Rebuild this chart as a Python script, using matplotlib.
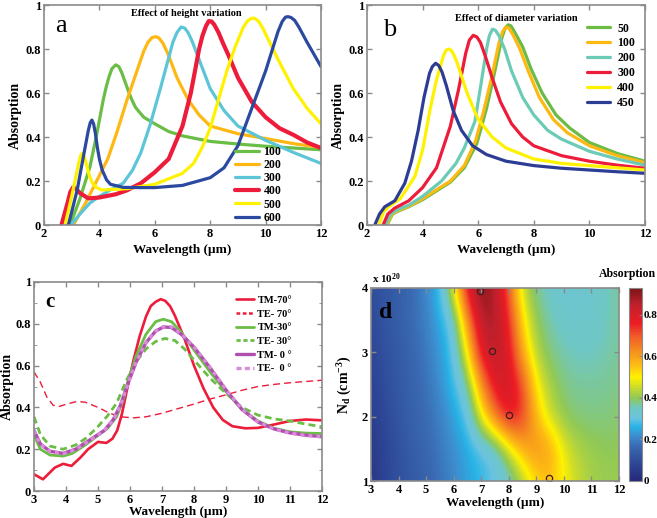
import numpy as np
import matplotlib
matplotlib.use("Agg")
import matplotlib.pyplot as plt
from matplotlib.colors import LinearSegmentedColormap

plt.rcParams['font.family'] = ['Liberation Serif', 'DejaVu Serif']
plt.rcParams['font.weight'] = 'bold'
plt.rcParams['axes.labelweight'] = 'bold'
plt.rcParams['mathtext.fontset'] = 'custom'
plt.rcParams['mathtext.rm'] = 'Liberation Serif:bold'
plt.rcParams['mathtext.it'] = 'Liberation Serif:bold'
plt.rcParams['mathtext.bf'] = 'Liberation Serif:bold'
plt.rcParams['mathtext.default'] = 'rm'
plt.rcParams['lines.solid_joinstyle'] = 'round'
plt.rcParams['lines.solid_capstyle'] = 'round'

# ---------------- Panel a : height variation ----------------
a_labels = ['100', '200', '300', '400', '500', '600']
a_colors = ['#6abd45', '#fdb813', '#5cc6d8', '#ec1c3a', '#fff200', '#2b4a9f']
a_x100 = [2.94, 3.3, 3.66, 3.9, 4.14, 4.25, 4.35, 4.45, 4.59, 4.7, 4.8, 4.9, 5.0, 5.15, 5.3, 5.6, 6.0, 6.5, 7, 8, 9, 10, 11, 12]
a_y100 = [0, 0.12, 0.265, 0.41, 0.57, 0.63, 0.675, 0.71, 0.728, 0.72, 0.695, 0.66, 0.625, 0.575, 0.535, 0.49, 0.46, 0.425, 0.405, 0.38, 0.368, 0.358, 0.35, 0.342]
a_x200 = [3.06, 3.5, 3.9, 4.3, 4.62, 5.0, 5.3, 5.6, 5.75, 5.9, 6.04, 6.15, 6.3, 6.5, 6.8, 7.2, 7.6, 8, 9, 10, 11, 12]
a_y200 = [0, 0.1, 0.2, 0.3, 0.417, 0.57, 0.68, 0.79, 0.83, 0.852, 0.856, 0.85, 0.825, 0.77, 0.67, 0.57, 0.5, 0.45, 0.415, 0.393, 0.37, 0.352]
a_x300 = [2.97, 3.3, 3.66, 4.0, 4.4, 4.86, 5.2, 5.5, 5.83, 6.2, 6.5, 6.65, 6.8, 6.95, 7.08, 7.2, 7.35, 7.5, 8.0, 8.5, 9, 10, 11, 12]
a_y300 = [0, 0.05, 0.1, 0.13, 0.16, 0.19, 0.25, 0.33, 0.455, 0.62, 0.76, 0.83, 0.875, 0.9, 0.895, 0.875, 0.835, 0.785, 0.62, 0.52, 0.45, 0.385, 0.33, 0.28]
a_x400 = [2.63, 2.85, 2.95, 3.05, 3.15, 3.3, 3.6, 4.0, 4.6, 5.0, 5.5, 6.0, 6.5, 7.0, 7.3, 7.6, 7.72, 7.85, 7.95, 8.05, 8.15, 8.3, 8.45, 8.7, 9.0, 9.5, 10, 10.5, 11, 11.5, 12]
a_y400 = [0, 0.1, 0.15, 0.171, 0.165, 0.145, 0.121, 0.125, 0.14, 0.158, 0.19, 0.24, 0.3, 0.45, 0.6, 0.8, 0.86, 0.905, 0.927, 0.925, 0.91, 0.875, 0.83, 0.76, 0.67, 0.56, 0.49, 0.44, 0.41, 0.375, 0.35]
a_x500 = [2.76, 3.0, 3.25, 3.33, 3.39, 3.46, 3.55, 3.65, 3.75, 3.9, 4.08, 5, 6, 7, 7.4, 7.7, 8.0, 8.3, 8.6, 8.9, 9.2, 9.35, 9.5, 9.6, 9.75, 9.9, 10.05, 10.5, 11, 11.5, 12]
a_y500 = [0, 0.13, 0.28, 0.318, 0.326, 0.31, 0.265, 0.22, 0.19, 0.17, 0.159, 0.165, 0.185, 0.235, 0.28, 0.35, 0.44, 0.57, 0.7, 0.81, 0.9, 0.928, 0.94, 0.94, 0.925, 0.895, 0.855, 0.74, 0.62, 0.53, 0.46]
a_x600 = [2.88, 3.2, 3.45, 3.6, 3.67, 3.73, 3.79, 3.85, 3.93, 4.0, 4.1, 4.26, 4.4, 4.86, 5.5, 6, 7, 8, 8.5, 9, 9.5, 10, 10.25, 10.45, 10.6, 10.72, 10.81, 10.92, 11.05, 11.2, 11.5, 12]
a_y600 = [0, 0.16, 0.33, 0.43, 0.465, 0.477, 0.46, 0.42, 0.35, 0.3, 0.25, 0.205, 0.185, 0.171, 0.17, 0.17, 0.18, 0.215, 0.26, 0.36, 0.53, 0.7, 0.8, 0.88, 0.925, 0.945, 0.947, 0.943, 0.93, 0.9, 0.83, 0.72]

# ---------------- Panel b : diameter variation ----------------
b_labels = ['50', '100', '200', '300', '400', '450']
b_colors = ['#6cbb45', '#fdb913', '#6bcbb7', '#ec1c3a', '#fff200', '#2e3d94']
b_x50 = [2.72, 2.92, 3.12, 3.5, 4, 4.5, 5, 5.5, 5.95, 6.3, 6.6, 6.85, 6.97, 7.08, 7.18, 7.32, 7.6, 7.9, 8.3, 8.8, 9.3, 10, 11, 12]
b_y50 = [0, 0.05, 0.063, 0.083, 0.115, 0.155, 0.195, 0.26, 0.37, 0.53, 0.7, 0.85, 0.895, 0.91, 0.905, 0.875, 0.81, 0.71, 0.6, 0.5, 0.44, 0.375, 0.325, 0.29]
b_x100 = [2.7, 2.9, 3.1, 3.5, 4, 4.5, 5, 5.5, 5.9, 6.2, 6.5, 6.75, 6.88, 7.0, 7.1, 7.25, 7.5, 7.8, 8.2, 8.7, 9.2, 10, 11, 12]
b_y100 = [0, 0.05, 0.065, 0.085, 0.12, 0.16, 0.2, 0.27, 0.38, 0.52, 0.68, 0.83, 0.88, 0.9, 0.895, 0.865, 0.8, 0.7, 0.58, 0.48, 0.42, 0.36, 0.315, 0.283]
b_x200 = [2.66, 2.85, 3.1, 3.5, 4, 4.68, 5.2, 5.5, 5.88, 6.1, 6.3, 6.4, 6.51, 6.62, 6.75, 6.95, 7.2, 7.6, 8, 8.5, 9, 10, 11, 12]
b_y200 = [0, 0.05, 0.07, 0.09, 0.13, 0.2, 0.28, 0.35, 0.47, 0.64, 0.8, 0.86, 0.89, 0.885, 0.86, 0.8, 0.7, 0.58, 0.5, 0.43, 0.39, 0.335, 0.3, 0.272]
b_x300 = [2.58, 2.75, 3.0, 3.5, 4.0, 4.5, 5.0, 5.3, 5.55, 5.68, 5.82, 5.95, 6.08, 6.25, 6.5, 6.8, 7.2, 7.6, 8, 9, 10, 11, 12]
b_y300 = [0, 0.05, 0.077, 0.11, 0.17, 0.26, 0.45, 0.62, 0.78, 0.84, 0.862, 0.855, 0.83, 0.77, 0.67, 0.56, 0.46, 0.4, 0.36, 0.315, 0.29, 0.272, 0.258]
b_x400 = [2.42, 2.6, 2.8, 3.2, 3.72, 4.0, 4.26, 4.5, 4.75, 4.85, 4.93, 5.02, 5.12, 5.25, 5.6, 6.0, 6.5, 7, 8, 9, 10, 11, 12]
b_y400 = [0, 0.06, 0.085, 0.12, 0.22, 0.34, 0.52, 0.66, 0.77, 0.795, 0.8, 0.795, 0.775, 0.735, 0.6, 0.48, 0.4, 0.35, 0.3, 0.28, 0.27, 0.26, 0.25]
b_x450 = [2.28, 2.45, 2.64, 3.0, 3.36, 3.6, 3.84, 4.05, 4.25, 4.35, 4.47, 4.58, 4.7, 4.85, 5.1, 5.4, 5.8, 6.3, 7, 8, 9, 10, 11, 12]
b_y450 = [0, 0.05, 0.083, 0.11, 0.19, 0.29, 0.43, 0.58, 0.69, 0.72, 0.735, 0.725, 0.695, 0.635, 0.52, 0.43, 0.36, 0.32, 0.29, 0.27, 0.258, 0.25, 0.242, 0.235]

# ---------------- Panel c : polarisation / angle ----------------
c_x_tm70 = [3.0, 3.28, 3.65, 3.91, 4.17, 4.45, 4.69, 5.0, 5.26, 5.45, 5.6, 5.75, 5.9, 6.1, 6.3, 6.5, 6.65, 6.8, 6.96, 7.1, 7.25, 7.4, 7.7, 8.0, 8.3, 8.6, 8.9, 9.2, 9.6, 10, 10.5, 11, 11.5, 12]
c_y_tm70 = [0.08, 0.056, 0.112, 0.13, 0.12, 0.16, 0.2, 0.235, 0.23, 0.25, 0.29, 0.37, 0.48, 0.62, 0.74, 0.835, 0.885, 0.905, 0.918, 0.91, 0.885, 0.84, 0.73, 0.6, 0.49, 0.4, 0.34, 0.31, 0.3, 0.302, 0.318, 0.335, 0.342, 0.338]
c_x_te70 = [3.0, 3.2, 3.4, 3.6, 3.8, 4.0, 4.33, 4.6, 5.0, 5.37, 5.7, 6.1, 6.5, 7.0, 7.45, 8, 8.5, 9, 9.5, 10, 10.5, 11, 11.5, 12]
c_y_te70 = [0.57, 0.52, 0.45, 0.41, 0.405, 0.415, 0.428, 0.425, 0.4, 0.372, 0.355, 0.35, 0.355, 0.372, 0.392, 0.416, 0.44, 0.46, 0.482, 0.5, 0.51, 0.518, 0.524, 0.53]
c_x_tm30 = [3.0, 3.2, 3.5, 3.91, 4.2, 4.6, 4.95, 5.3, 5.58, 5.8, 5.94, 6.2, 6.5, 6.8, 7.04, 7.3, 7.6, 8.0, 8.5, 9.0, 9.5, 10, 10.5, 11, 11.5, 12]
c_y_tm30 = [0.267, 0.2, 0.172, 0.167, 0.18, 0.22, 0.26, 0.3, 0.355, 0.44, 0.53, 0.65, 0.75, 0.81, 0.822, 0.81, 0.76, 0.675, 0.57, 0.475, 0.39, 0.335, 0.3, 0.283, 0.277, 0.275]
c_x_te30 = [3.0, 3.2, 3.5, 3.91, 4.3, 4.6, 4.95, 5.3, 5.58, 5.89, 6.2, 6.5, 6.8, 7.09, 7.4, 7.7, 8.0, 8.5, 9, 9.5, 10, 10.5, 11, 11.5, 12]
c_y_te30 = [0.355, 0.27, 0.215, 0.2, 0.22, 0.25, 0.3, 0.36, 0.42, 0.53, 0.62, 0.68, 0.715, 0.73, 0.72, 0.68, 0.627, 0.54, 0.467, 0.4, 0.363, 0.345, 0.335, 0.32, 0.307]
c_x_tm0 = [3.0, 3.2, 3.5, 3.91, 4.3, 4.6, 4.95, 5.2, 5.47, 5.7, 5.95, 6.2, 6.5, 6.8, 7.05, 7.3, 7.6, 8.0, 8.5, 9.0, 9.5, 10, 10.5, 11, 11.5, 12]
c_y_tm0 = [0.29, 0.225, 0.19, 0.18, 0.2, 0.23, 0.265, 0.29, 0.34, 0.41, 0.52, 0.62, 0.71, 0.765, 0.785, 0.782, 0.75, 0.688, 0.59, 0.483, 0.39, 0.33, 0.297, 0.278, 0.267, 0.26]
c_x_te0 = [3.0, 3.2, 3.5, 3.91, 4.3, 4.6, 4.95, 5.2, 5.47, 5.7, 5.95, 6.2, 6.5, 6.8, 7.05, 7.3, 7.6, 8.0, 8.5, 9.0, 9.5, 10, 10.5, 11, 11.5, 12]
c_y_te0 = [0.288, 0.223, 0.188, 0.178, 0.198, 0.228, 0.263, 0.29, 0.338, 0.41, 0.52, 0.62, 0.71, 0.765, 0.787, 0.785, 0.752, 0.69, 0.592, 0.485, 0.392, 0.331, 0.296, 0.277, 0.266, 0.259]
c_labels = ['TM-70°', 'TE- 70°', 'TM-30°', 'TE- 30°', 'TM- 0 °', 'TE-  0 °']

# ---------------- Panel d : map ----------------
d_wl = [3, 3.5, 4, 4.5, 5, 5.5, 6, 6.5, 7, 7.5, 8, 8.5, 9, 9.5, 10, 10.5, 11, 11.5, 12]
d_nd = [1, 1.5, 2, 2.5, 3, 3.5, 4]
d_abs = [
    [0.04, 0.08, 0.11, 0.13, 0.15, 0.18, 0.21, 0.24, 0.27, 0.30, 0.33, 0.42, 0.52, 0.55, 0.50, 0.45, 0.42, 0.41, 0.41],
    [0.05, 0.08, 0.11, 0.14, 0.16, 0.19, 0.22, 0.25, 0.28, 0.31, 0.45, 0.58, 0.63, 0.60, 0.48, 0.43, 0.41, 0.40, 0.40],
    [0.06, 0.09, 0.12, 0.15, 0.17, 0.20, 0.24, 0.29, 0.48, 0.66, 0.80, 0.74, 0.56, 0.45, 0.40, 0.38, 0.38, 0.38, 0.39],
    [0.07, 0.10, 0.13, 0.15, 0.18, 0.22, 0.27, 0.36, 0.62, 0.80, 0.82, 0.72, 0.50, 0.42, 0.38, 0.37, 0.37, 0.37, 0.38],
    [0.08, 0.11, 0.13, 0.16, 0.19, 0.23, 0.29, 0.50, 0.80, 0.85, 0.80, 0.58, 0.43, 0.38, 0.36, 0.35, 0.35, 0.36, 0.37],
    [0.09, 0.12, 0.14, 0.17, 0.20, 0.25, 0.32, 0.62, 0.86, 0.88, 0.76, 0.52, 0.40, 0.36, 0.34, 0.34, 0.34, 0.35, 0.37],
    [0.10, 0.12, 0.14, 0.17, 0.21, 0.27, 0.48, 0.80, 0.93, 0.86, 0.70, 0.44, 0.37, 0.34, 0.33, 0.33, 0.34, 0.35, 0.37],
]
d_peak_wl = [6.95, 7.4, 8.0, 9.45]
d_peak_nd = [3.95, 3.02, 2.02, 1.05]

# ---------------- figure ----------------
fig = plt.figure(figsize=(6.57, 5.18), dpi=100)
W, H = 657, 518


def px_axes(l, t, r, b):
    return fig.add_axes([l / W, 1 - b / H, (r - l) / W, (b - t) / H])


def style(ax):
    for s in ax.spines.values():
        s.set_color('#8a8a8a')
        s.set_linewidth(1.2)
    ax.tick_params(direction='in', top=True, right=True, length=3.5,
                   color='#8a8a8a', labelsize=9, width=1, pad=2)
    ax.tick_params(which='minor', direction='in', top=True, right=True,
                   length=2.5, color='#8a8a8a')


# Panel a
axa = px_axes(44, 5, 321, 225)
a_xs = [a_x100, a_x200, a_x300, a_x400, a_x500, a_x600]
a_ys = [a_y100, a_y200, a_y300, a_y400, a_y500, a_y600]
for xs, ys, c, lab in zip(a_xs, a_ys, a_colors, a_labels):
    axa.plot(xs, ys, color=c, lw=3.0 if lab == '400' else 2.3, label=lab)
axa.set_xlim(2, 12)
axa.set_ylim(0, 1)
axa.set_xticks([2, 4, 6, 8, 10, 12])
axa.set_yticks([0, 0.2, 0.4, 0.6, 0.8, 1])
axa.set_yticklabels(['0', '0.2', '0.4', '0.6', '0.8', '1'])
axa.set_xlabel('Wavelength (µm)', fontsize=9.5, labelpad=3)
axa.set_ylabel('Absorption', fontsize=10, labelpad=3)
style(axa)
axa.text(0.04, 0.879, 'a', transform=axa.transAxes, fontsize=19,
         fontweight='normal', va='baseline')
axa.text(0.513, 0.95, 'Effect of height variation', transform=axa.transAxes,
         fontsize=7.5, ha='center', va='baseline')
axa.legend(loc='upper left', bbox_to_anchor=(0.69, 0.36), frameon=False,
           fontsize=8.5, handlelength=2.0, handletextpad=0.4,
           labelspacing=0.1, borderpad=0, borderaxespad=0)

# Panel b
axb = px_axes(367, 5, 645, 225)
b_xs = [b_x50, b_x100, b_x200, b_x300, b_x400, b_x450]
b_ys = [b_y50, b_y100, b_y200, b_y300, b_y400, b_y450]
for xs, ys, c, lab in zip(b_xs, b_ys, b_colors, b_labels):
    axb.plot(xs, ys, color=c, lw=2.3, label=lab)
axb.set_xlim(2, 12)
axb.set_ylim(0, 1)
axb.set_xticks([2, 4, 6, 8, 10, 12])
axb.set_yticks([0, 0.2, 0.4, 0.6, 0.8, 1])
axb.set_yticklabels(['0', '0.2', '0.4', '0.6', '0.8', '1'])
axb.set_xlabel('Wavelength (µm)', fontsize=9.5, labelpad=3)
axb.set_ylabel('Absorption', fontsize=10, labelpad=3)
style(axb)
axb.text(0.058, 0.859, 'b', transform=axb.transAxes, fontsize=19,
         fontweight='normal', va='baseline')
axb.text(0.538, 0.929, 'Effect of diameter variation', transform=axb.transAxes,
         fontsize=7.5, ha='center', va='baseline')
axb.legend(loc='upper left', bbox_to_anchor=(0.79, 0.92), frameon=False,
           fontsize=8.5, handlelength=2.0, handletextpad=0.6,
           labelspacing=0.24, borderpad=0, borderaxespad=0)

# Panel c
axc = px_axes(34, 282, 322, 491)
axc.plot(c_x_tm70, c_y_tm70, color='#ec1c3a', lw=1.9, label=c_labels[0])
axc.plot(c_x_te70, c_y_te70, color='#ec1c3a', lw=1.0, ls=(0, (5, 3)), label=c_labels[1])
axc.plot(c_x_tm30, c_y_tm30, color='#6abd45', lw=2.0, label=c_labels[2])
axc.plot(c_x_te30, c_y_te30, color='#6abd45', lw=2.0, ls=(0, (2.5, 1.5)), label=c_labels[3])
axc.plot(c_x_tm0, c_y_tm0, color='#b04fb0', lw=2.4, label=c_labels[4])
axc.plot(c_x_te0, c_y_te0, color='#d98ad9', lw=2.4, ls=(0, (1.2, 1.2)), label=c_labels[5])
axc.set_xlim(3, 12)
axc.set_ylim(0, 1)
axc.set_xticks(range(3, 13))
axc.set_yticks([0, 0.2, 0.4, 0.6, 0.8, 1])
axc.set_yticklabels(['0', '0.2', '0.4', '0.6', '0.8', '1'])
axc.set_yticks(np.arange(0, 1.01, 0.1), minor=True)
axc.set_xlabel('Wavelength (µm)', fontsize=9.5, labelpad=0)
axc.set_ylabel('Absorption', fontsize=10, labelpad=1)
style(axc)
axc.text(0.038, 0.882, 'c', transform=axc.transAxes, fontsize=15,
         va='baseline')
handles, labels = axc.get_legend_handles_labels()
leg = axc.legend(handles, labels, loc='upper left', bbox_to_anchor=(0.7, 0.935),
                 frameon=False, fontsize=7.5, handlelength=1.8,
                 handletextpad=0.3, labelspacing=0.42, borderpad=0,
                 borderaxespad=0)
leg.get_lines()[1].set_linestyle((0, (1.5, 1)))
leg.get_lines()[1].set_linewidth(1.8)
leg.get_lines()[3].set_linestyle((0, (1.5, 1)))
leg.get_lines()[5].set_linestyle((0, (1.5, 1)))

# Panel d
cmap_stops = [
    (0.00, '#25287a'), (0.08, '#2d4595'), (0.17, '#3a6bb3'), (0.22, '#3d8fd0'),
    (0.26, '#27b4e6'), (0.30, '#6ac3e0'), (0.35, '#6fc7c6'), (0.40, '#90c957'),
    (0.45, '#c8da2e'), (0.50, '#fff200'), (0.56, '#fdbb14'), (0.62, '#f7941d'),
    (0.70, '#f1592a'), (0.76, '#ec1c24'), (0.85, '#c0202c'), (0.93, '#7b1517'),
]
vmax = 0.93
cmap = LinearSegmentedColormap.from_list(
    'absorp', [(v / vmax, c) for v, c in cmap_stops])

axd = px_axes(371, 288, 619, 481)
Z = np.array(d_abs)
dx = (d_wl[1] - d_wl[0]) / 2
dy = (d_nd[1] - d_nd[0]) / 2
im = axd.imshow(Z, origin='lower', aspect='auto', cmap=cmap, vmin=0, vmax=vmax,
                extent=[d_wl[0] - dx, d_wl[-1] + dx, d_nd[0] - dy, d_nd[-1] + dy],
                interpolation='bicubic')
axd.plot(d_peak_wl, d_peak_nd, 'o', mfc='none', mec='#3a2020', ms=4.5, mew=0.9)
axd.set_xlim(3, 12)
axd.set_ylim(1, 4)
axd.set_xticks(range(3, 13))
axd.set_yticks([1, 2, 3, 4])
axd.set_xlabel('Wavelength (µm)', fontsize=9.5, labelpad=1)
axd.set_ylabel('N$_d$ (cm$^{-3}$)', fontsize=10, labelpad=6)
style(axd)
axd.text(0.032, 0.845, 'd', transform=axd.transAxes, fontsize=17,
         va='baseline')
axd.text(0.004, 1.026, 'x 10$^{20}$', transform=axd.transAxes, fontsize=8,
         va='baseline')

cax = px_axes(629, 288, 642, 481)
cb = fig.colorbar(im, cax=cax, ticks=[0, 0.2, 0.4, 0.6, 0.8])
cb.ax.set_yticklabels(['0', '0.2', '0.4', '0.6', '0.8'])
cb.outline.set_edgecolor('#8a8a8a')
cb.ax.tick_params(labelsize=8, direction='in', length=2.5, color='#8a8a8a', pad=1.5)
fig.text(0.999, 1 - 277 / H, 'Absorption', ha='right', va='baseline',
         fontsize=8.5)

fig.savefig('out.png', dpi=100)
